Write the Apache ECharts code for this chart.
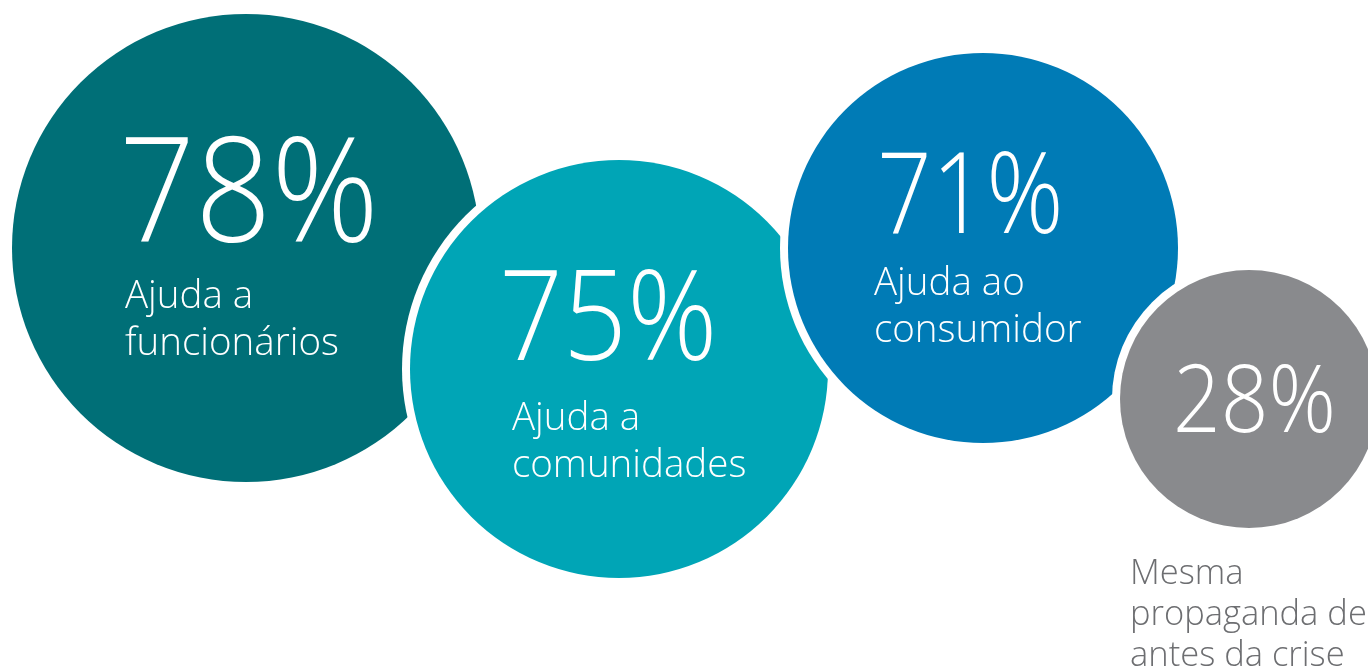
<!DOCTYPE html>
<html>
<head>
<meta charset="utf-8">
<script src="https://cdn.jsdelivr.net/npm/echarts@6/dist/echarts.min.js"></script>
<style>
  html, body { margin: 0; padding: 0; background: #fff; }
  #chart { width: 1368px; height: 668px; }
</style>
</head>
<body>
<div id="chart"></div>
<script>
// bubble data (axis units = page pixels)
const categories = ['Ajuda a\nfuncionários', 'Ajuda a\ncomunidades', 'Ajuda ao\nconsumidor', 'Mesma\npropaganda de\nantes da crise'];
const values = [78, 75, 71, 28];
const centerX = [246, 619, 983, 1249];
const centerY = [248, 369, 248, 399];
const radius = [234, 209, 195, 129];

const colors = ['#006f77', '#00a5b6', '#007bb6', '#898a8d'];
const FONT = '"Open Sans", "Noto Sans", sans-serif';

// text placement relative to bubble centre (baseline offsets)
const pctStyle = [
  { dx: -127, dy: -6, size: 145, sx: 0.92 },
  { dx: -120, dy: -9, size: 126, sx: 0.89 },
  { dx: -106, dy: -15, size: 112, sx: 0.855 },
  { dx: -76, dy: 33, size: 94, sx: 0.89 }
];
const labelStyle = [
  { dx: -121, dy: 60, size: 38.5, lh: 47, color: '#fff' },
  { dx: -107, dy: 61, size: 38.5, lh: 47, color: '#fff' },
  { dx: -109, dy: 47, size: 38.5, lh: 47, color: '#fff' },
  { dx: -119, dy: 185, size: 34.5, lh: 41, color: '#6d6e71' }
];

const chart = echarts.init(document.getElementById('chart'));

function textEl(str, x, baseline, size, color, sx) {
  return {
    type: 'text',
    x: x,
    y: baseline - 0.285 * size,
    scaleX: sx || 1,
    style: {
      text: str,
      x: 0,
      y: 0,
      fill: color,
      fontSize: size,
      fontFamily: FONT,
      fontWeight: 300,
      verticalAlign: 'middle',
      align: 'left'
    }
  };
}

function renderItem(params, api) {
  const i = params.dataIndex;
  const c = api.coord([api.value(0), api.value(1)]);
  const r = api.size([api.value(2), 0])[0];
  const ps = pctStyle[i];
  const ls = labelStyle[i];
  const children = [
    { type: 'circle', shape: { cx: c[0], cy: c[1], r: r + 8 }, style: { fill: '#fff' } },
    { type: 'circle', shape: { cx: c[0], cy: c[1], r: r }, style: { fill: colors[i] } },
    textEl(api.value(3) + '%', c[0] + ps.dx, c[1] + ps.dy, ps.size, '#fff', ps.sx)
  ];
  categories[i].split('\n').forEach(function (line, k) {
    children.push(textEl(line, c[0] + ls.dx, c[1] + ls.dy + k * ls.lh, ls.size, ls.color));
  });
  return { type: 'group', children: children };
}

chart.setOption({
  animation: false,
  grid: { left: 0, right: 0, top: 0, bottom: 0 },
  xAxis: { type: 'value', min: 0, max: 1368, show: false },
  yAxis: { type: 'value', min: 0, max: 668, inverse: true, show: false },
  series: [{
    type: 'custom',
    clip: false,
    renderItem: renderItem,
    data: values.map(function (v, i) {
      return [centerX[i], centerY[i], radius[i], v];
    })
  }]
});
</script>
</body>
</html>
